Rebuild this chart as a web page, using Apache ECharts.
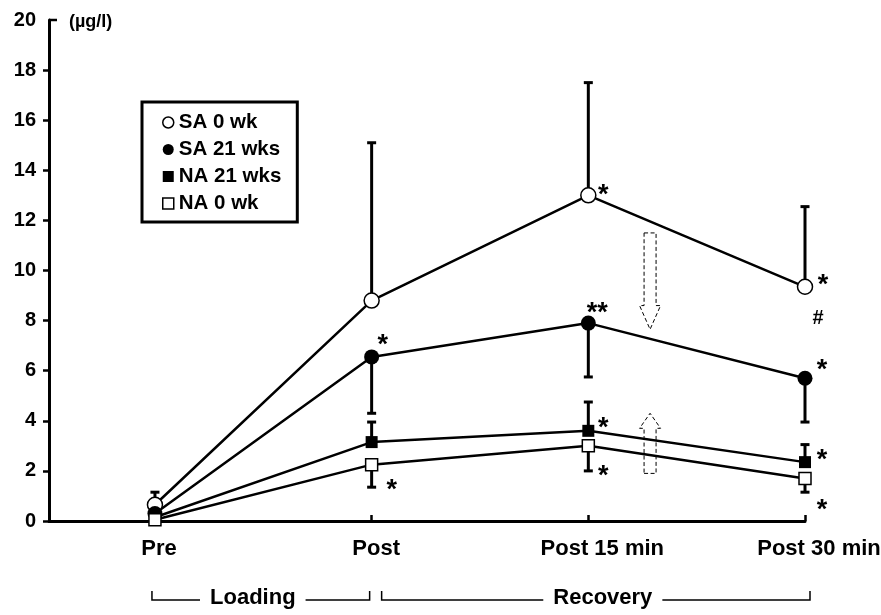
<!DOCTYPE html>
<html>
<head>
<meta charset="utf-8">
<script src="https://cdn.jsdelivr.net/npm/echarts@6/dist/echarts.min.js"></script>
<style>
  html, body { margin: 0; padding: 0; background: #fff; }
  #chart { width: 881px; height: 615px; }
</style>
</head>
<body>
<div id="chart"></div>
<script>
// Sampling points (x positions 0..3)
const categories = ['Pre', 'Post', 'Post 15 min', 'Post 30 min'];
const groupNames = ['SA 0 wk', 'SA 21 wks', 'NA 21 wks', 'NA 0 wk'];
const yTicks = [0, 2, 4, 6, 8, 10, 12, 14, 16, 18, 20];
const unitLabel = '(µg/l)';

// Means (µg/l)
const sa0 = [0.65, 8.8, 13.0, 9.35];
const sa21 = [0.3, 6.55, 7.9, 5.7];
const na21 = [0.15, 3.15, 3.6, 2.35];
const na0 = [0.05, 2.25, 3.0, 1.7];

// Error bar end values (SA 0 wk / NA 21 wks drawn upward, the others downward)
const sa0Bar = [1.15, 15.1, 17.5, 12.55];
const sa21Bar = [null, 4.3, 5.75, 3.95];
const na21Bar = [null, 3.95, 4.75, 3.05];
const na0Bar = [null, 1.35, 2.0, 1.15];

// Significance marks vs Pre
const sa0Sig = ['', '', '*', '*'];
const sa21Sig = ['', '*', '**', '*'];
const na21Sig = ['', '', '*', '*'];
const na0Sig = ['', '*', '*', '*'];
// Between-group mark at Post 30 min
const groupMark = { text: '#', x: 3, y: 8.1 };

// Dashed trend arrows: [x, tail, neck, tip]
const downArrow = [2.285, 11.5, 8.6, 7.65];
const upArrow = [2.285, 1.9, 3.7, 4.3];

// Phase brackets under the x axis
const phases = [
  { name: 'Loading', from: 0, to: 1 },
  { name: 'Recovery', from: 1, to: 3 }
];

const FONT = '"Liberation Sans", Arial, Helvetica, sans-serif';
const X_MIN = -0.489;

// label offsets [dx, dy] in px for each significance mark
const sigOffsets = {
  sa0: [null, null, [15, -7], [18, -8]],
  sa21: [null, [11, -18], [9, -17], [17, -15]],
  na21: [null, null, [15, -9], [17, -9]],
  na0: [null, [20, 19], [15, 24], [17, 25]]
};
const ASTER_LIFT = 7;

function points(vals, sig, offs) {
  return vals.map((v, i) => {
    const item = { value: [i, v] };
    if (sig[i]) {
      const o = offs[i];
      item.label = {
        show: true,
        formatter: sig[i],
        position: 'inside',
        align: 'center',
        verticalAlign: 'middle',
        offset: [o[0], o[1] + ASTER_LIFT],
        fontFamily: FONT,
        fontWeight: 'bold',
        fontSize: 27,
        color: '#000'
      };
    }
    return item;
  });
}

function bars(vals, ends) {
  const out = [];
  vals.forEach((v, i) => { if (ends[i] != null) out.push([i, v, ends[i]]); });
  return out;
}

function errorBarRender(params, api) {
  const x = api.value(0), m = api.value(1), b = api.value(2);
  const p0 = api.coord([x, m]);
  const p1 = api.coord([x, b]);
  const cap = 4.5;
  const st = { stroke: '#000', lineWidth: 3 };
  return {
    type: 'group',
    children: [
      { type: 'line', shape: { x1: p0[0], y1: p0[1], x2: p1[0], y2: p1[1] }, style: st },
      { type: 'line', shape: { x1: p1[0] - cap, y1: p1[1], x2: p1[0] + cap, y2: p1[1] }, style: st }
    ]
  };
}

function arrowRender(params, api) {
  const x = api.value(0);
  const tail = api.coord([x, api.value(1)]);
  const neck = api.coord([x, api.value(2)]);
  const tip = api.coord([x, api.value(3)]);
  const cx = tail[0], sw = 6, hw = 10.5;
  return {
    type: 'polygon',
    shape: {
      points: [
        [cx - sw, tail[1]], [cx + sw, tail[1]], [cx + sw, neck[1]],
        [cx + hw, neck[1]], [cx, tip[1]], [cx - hw, neck[1]], [cx - sw, neck[1]]
      ]
    },
    style: { fill: 'none', stroke: '#000', lineWidth: 1, lineDash: [4, 2.5] }
  };
}

function errorSeries(data) {
  return {
    type: 'custom', renderItem: errorBarRender, data: data, z: 1,
    encode: { x: 0, y: [1, 2] }, silent: true
  };
}

const openStyle = { color: '#fff', borderColor: '#000', borderWidth: 1.5 };
const solidStyle = { color: '#000', borderColor: '#000', borderWidth: 0 };

function lineSeries(name, vals, sig, offs, symbol, size, itemStyle) {
  return {
    name: name, type: 'line', z: 3,
    data: points(vals, sig, offs),
    symbol: symbol, symbolSize: size, showAllSymbol: true,
    lineStyle: { color: '#000', width: 2.5 },
    itemStyle: itemStyle,
    emphasis: { disabled: true },
    animation: false
  };
}

const chart = echarts.init(document.getElementById('chart'), null, { renderer: 'canvas' });

const sa0Series = lineSeries(groupNames[0], sa0, sa0Sig, sigOffsets.sa0, 'circle', 15, openStyle);
sa0Series.markPoint = {
  symbol: 'circle',
  symbolSize: 1,
  silent: true,
  itemStyle: { color: 'rgba(0,0,0,0)' },
  data: [{
    coord: [groupMark.x, groupMark.y],
    label: {
      show: true, formatter: groupMark.text, position: 'inside', offset: [13, 0],
      fontFamily: FONT, fontWeight: 'bold', fontSize: 20, color: '#000'
    }
  }]
};

const option = {
  animation: false,
  backgroundColor: '#fff',
  title: {
    text: unitLabel, left: 64, top: 8,
    textStyle: { fontFamily: FONT, fontWeight: 'bold', fontSize: 18, color: '#000' }
  },
  grid: { left: 49, right: 76, top: 20, bottom: 94, containLabel: false, outerBoundsMode: 'none' },
  legend: {
    orient: 'vertical', left: 142, top: 102,
    padding: [10, 16, 8, 20], itemGap: 6,
    itemWidth: 11, itemHeight: 11,
    borderColor: '#000', borderWidth: 3,
    textStyle: { fontFamily: FONT, fontWeight: 'bold', fontSize: 20.5, color: '#000' },
    data: [
      { name: groupNames[0], icon: 'circle', itemStyle: openStyle },
      { name: groupNames[1], icon: 'circle', itemStyle: solidStyle },
      { name: groupNames[2], icon: 'rect', itemStyle: solidStyle },
      { name: groupNames[3], icon: 'rect', itemStyle: openStyle }
    ],
    selectedMode: false
  },
  xAxis: {
    type: 'value', min: X_MIN, max: categories.length - 1,
    splitLine: { show: false },
    axisLine: { show: true, onZero: false, lineStyle: { color: '#000', width: 3 } },
    axisTick: { show: true, inside: true, length: 6, customValues: [1, 2, 3], lineStyle: { color: '#000', width: 2.5 } },
    axisLabel: {
      customValues: [0, 1, 2, 3],
      formatter: (v) => {
        const i = Math.round(v);
        return '{c' + i + '|' + categories[i] + '}';
      },
      margin: 17,
      color: '#000',
      fontFamily: FONT, fontWeight: 'bold', fontSize: 22,
      rich: {
        c0: { fontFamily: FONT, fontWeight: 'bold', fontSize: 22, padding: [0, 0, 0, 8] },
        c1: { fontFamily: FONT, fontWeight: 'bold', fontSize: 22, padding: [0, 0, 0, 9] },
        c2: { fontFamily: FONT, fontWeight: 'bold', fontSize: 22, padding: [0, 0, 0, 28] },
        c3: { fontFamily: FONT, fontWeight: 'bold', fontSize: 22, padding: [0, 0, 0, 28] }
      }
    }
  },
  yAxis: {
    type: 'value', min: 0, max: 20, interval: 2,
    splitLine: { show: false },
    axisLine: { show: true, onZero: false, lineStyle: { color: '#000', width: 3 } },
    axisTick: { show: true, length: 6, customValues: yTicks.slice(0, -1), lineStyle: { color: '#000', width: 2.5 } },
    axisLabel: {
      customValues: yTicks,
      margin: 13, color: '#000',
      fontFamily: FONT, fontWeight: 'bold', fontSize: 20
    }
  },
  series: [
    errorSeries(bars(sa0, sa0Bar)),
    errorSeries(bars(sa21, sa21Bar)),
    errorSeries(bars(na21, na21Bar)),
    errorSeries(bars(na0, na0Bar)),
    sa0Series,
    lineSeries(groupNames[1], sa21, sa21Sig, sigOffsets.sa21, 'circle', 15, solidStyle),
    lineSeries(groupNames[2], na21, na21Sig, sigOffsets.na21, 'rect', 12, solidStyle),
    lineSeries(groupNames[3], na0, na0Sig, sigOffsets.na0, 'rect', 12, openStyle),
    {
      type: 'custom', renderItem: arrowRender, silent: true, z: 2,
      encode: { x: 0, y: [1, 2, 3] },
      data: [downArrow, upArrow]
    }
  ]
};

chart.setOption(option);

// Decorations placed from the axis scales: top hook of the y axis and phase brackets
(function addDecorations() {
  const toPx = (x, y) => chart.convertToPixel({ gridIndex: 0 }, [x, y]);
  const top = toPx(X_MIN, 20);
  const base = toPx(0, 0);
  const lineY = base[1] + 79;
  const hookH = 9;
  const ctx = document.createElement('canvas').getContext('2d');
  ctx.font = 'bold 22px ' + FONT;
  const st = { stroke: '#000', lineWidth: 1.5 };
  const elements = [
    { type: 'line', shape: { x1: top[0], y1: top[1], x2: top[0] + 8, y2: top[1] }, style: { stroke: '#000', lineWidth: 2.5 } }
  ];
  // pixel adjustments of bracket ends and label centre
  const adj = [
    { l: -3, r: -2, t: -8 },
    { l: 10, r: 5, t: 7 }
  ];
  phases.forEach((ph, k) => {
    const a = adj[k];
    const x1 = toPx(ph.from, 0)[0] + a.l;
    const x2 = toPx(ph.to, 0)[0] + a.r;
    const tc = (x1 + x2) / 2 + a.t;
    const w = ctx.measureText(ph.name).width;
    const gap = 10;
    elements.push(
      { type: 'polyline', shape: { points: [[x1, lineY - hookH], [x1, lineY], [tc - w / 2 - gap, lineY]] }, style: st },
      { type: 'polyline', shape: { points: [[tc + w / 2 + gap, lineY], [x2, lineY], [x2, lineY - hookH]] }, style: st },
      {
        type: 'text', x: tc, y: lineY - 2,
        style: {
          text: ph.name, fill: '#000', align: 'center', verticalAlign: 'middle',
          font: 'bold 22px ' + FONT
        }
      }
    );
  });
  chart.setOption({ graphic: elements });
})();
</script>
</body>
</html>
